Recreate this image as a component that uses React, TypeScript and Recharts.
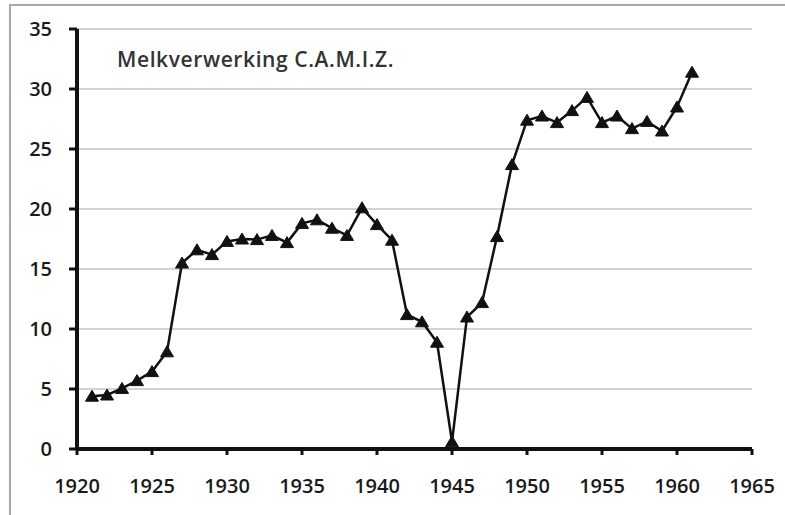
import { LineChart, Line, XAxis, YAxis, CartesianGrid } from "recharts"

const years = [
  1921, 1922, 1923, 1924, 1925, 1926, 1927, 1928, 1929, 1930,
  1931, 1932, 1933, 1934, 1935, 1936, 1937, 1938, 1939, 1940,
  1941, 1942, 1943, 1944, 1945, 1946, 1947, 1948, 1949, 1950,
  1951, 1952, 1953, 1954, 1955, 1956, 1957, 1958, 1959, 1960, 1961,
]
const melk = [
  4.4, 4.5, 5.05, 5.7, 6.45, 8.1, 15.5, 16.6, 16.2, 17.3,
  17.5, 17.45, 17.8, 17.2, 18.8, 19.1, 18.4, 17.8, 20.1, 18.7,
  17.4, 11.2, 10.6, 8.9, 0.6, 11.0, 12.2, 17.7, 23.7, 27.4,
  27.75, 27.2, 28.2, 29.3, 27.2, 27.75, 26.7, 27.3, 26.5, 28.5, 31.4,
]
const xTicks = [1920, 1925, 1930, 1935, 1940, 1945, 1950, 1955, 1960, 1965]
const yTicks = [0, 5, 10, 15, 20, 25, 30, 35]
const title = "Melkverwerking C.A.M.I.Z."

const data = years.map((year, i) => ({ year, value: melk[i] }))

const font = "'Open Sans', sans-serif"
const tickStyle = { fontFamily: font, fontSize: 20, fontWeight: 600, fill: "#1a1a1a" }
const axisLine = { stroke: "#111", strokeWidth: 4 }
const tickLine = { stroke: "#111", strokeWidth: 3 }

function Triangle(props: any) {
  const { cx, cy, index } = props
  if (cx == null || cy == null) return null
  return (
    <polygon
      key={index}
      points={`${cx},${cy - 6} ${cx - 6.5},${cy + 5} ${cx + 6.5},${cy + 5}`}
      fill="#111"
      stroke="#111"
      strokeWidth={1}
      strokeLinejoin="round"
    />
  )
}

export default function App() {
  return (
    <div style={{ position: "absolute", left: 0, top: 0, width: 785, height: 515, background: "#fff", overflow: "hidden" }}>
      <div
        style={{
          position: "absolute",
          left: 9,
          top: 4,
          width: 800,
          height: 600,
          borderTop: "2px solid #a8a8a8",
          borderLeft: "2px solid #a8a8a8",
        }}
      />
      <LineChart
        width={785}
        height={515}
        data={data}
        margin={{ top: 29, right: 33, bottom: 26, left: 17 }}
        style={{ position: "absolute", left: 0, top: 0 }}
      >
        <CartesianGrid vertical={false} stroke="#c6c6c6" strokeWidth={1.5} />
        <XAxis
          dataKey="year"
          type="number"
          domain={[1920, 1965]}
          ticks={xTicks}
          height={40}
          axisLine={axisLine}
          tickLine={tickLine}
          tickSize={6}
          tickMargin={24}
          tick={tickStyle}
          interval={0}
        />
        <YAxis
          type="number"
          domain={[0, 35]}
          ticks={yTicks}
          width={60}
          axisLine={axisLine}
          tickLine={tickLine}
          tickSize={8}
          tickMargin={17}
          tick={tickStyle}
          interval={0}
        />
        <Line
          dataKey="value"
          type="linear"
          stroke="#111"
          strokeWidth={2.5}
          dot={<Triangle />}
          activeDot={false}
          isAnimationActive={false}
        />
      </LineChart>
      <div
        style={{
          position: "absolute",
          left: 117,
          top: 45,
          fontFamily: font,
          fontSize: 21,
          fontWeight: 600,
          letterSpacing: 0.6,
          color: "#333",
          whiteSpace: "nowrap",
        }}
      >
        {title}
      </div>
    </div>
  )
}
